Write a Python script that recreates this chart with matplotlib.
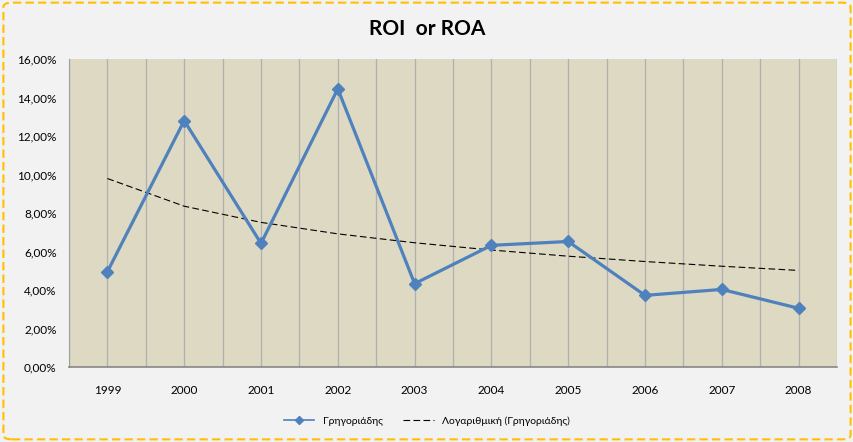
import numpy as np
import matplotlib.pyplot as plt
from matplotlib.patches import FancyBboxPatch
from matplotlib.lines import Line2D
from matplotlib.ticker import FuncFormatter

years = ["1999", "2000", "2001", "2002", "2003", "2004", "2005", "2006", "2007", "2008"]
roi = [4.95, 12.8, 6.42, 14.45, 4.33, 6.32, 6.52, 3.72, 4.03, 3.05]  # %
series_name = "Γρηγοριάδης"
trend_name = "Λογαριθμική (Γρηγοριάδης)"

fonts = ["Lato", "Open Sans", "DejaVu Sans"]
plt.rcParams["font.family"] = fonts

fig = plt.figure(figsize=(8.54, 4.42), dpi=100)
fig.patch.set_facecolor("#F2F2F2")
border = FancyBboxPatch((0.004, 0.006), 0.992, 0.988, boxstyle="round,pad=0,rounding_size=0.01",
                        transform=fig.transFigure, fill=False, edgecolor="#FFC000",
                        linewidth=1.5, linestyle=(0, (4, 2)))
fig.patches.append(border)

ax = fig.add_axes([0.0808, 0.1697, 0.8993, 0.6968])
ax.set_facecolor("#DDD9C3")

x = np.arange(len(years))
# logarithmic trend line, fitted like Excel does (y = a + b*ln(x))
lnx = np.log(x + 1)
b, a = np.polyfit(lnx, roi, 1)
trend = a + b * lnx

ax.plot(x, roi, color="#4F81BD", linewidth=2.3, marker="D", markersize=6.5, zorder=3)
ax.plot(x, trend, color="black", linewidth=0.8, linestyle=(0, (6, 3)), zorder=2)

ax.set_xlim(-0.5, len(years) - 0.5)
ax.set_ylim(0, 16)
ax.set_yticks(np.arange(0, 17, 2))
ax.yaxis.set_major_formatter(FuncFormatter(lambda v, p: f"{v:.2f}%".replace(".", ",")))
ax.set_xticks(x)
ax.set_xticklabels(years)
ax.set_xticks(np.arange(-0.5, len(years), 1.0), minor=True)
ax.grid(True, axis="x", which="both", color="#B0B0B0", linewidth=0.9)
ax.set_axisbelow(True)
ax.tick_params(axis="both", which="both", length=0, labelsize=8.5, colors="black")
ax.tick_params(axis="x", pad=13)
ax.tick_params(axis="y", pad=9)
for s in ["top", "right"]:
    ax.spines[s].set_visible(False)
ax.spines["left"].set_color("#A0A0A0")
ax.spines["bottom"].set_color("#868686")
ax.spines["bottom"].set_linewidth(1.2)

fig.text(0.5, 0.935, "ROI  or ROA", ha="center", va="center", fontsize=15, fontweight="bold")

handles = [
    Line2D([], [], color="#4F81BD", linewidth=1.2, marker="D", markersize=4),
    Line2D([], [], color="black", linewidth=0.8, linestyle=(0, (6, 3))),
]
fig.legend(handles, [series_name, trend_name], loc="center", bbox_to_anchor=(0.5, 0.047),
           ncol=2, frameon=False, fontsize=7.5, handlelength=2.9, columnspacing=2)

fig.savefig("out.png", dpi=100, facecolor=fig.get_facecolor())
